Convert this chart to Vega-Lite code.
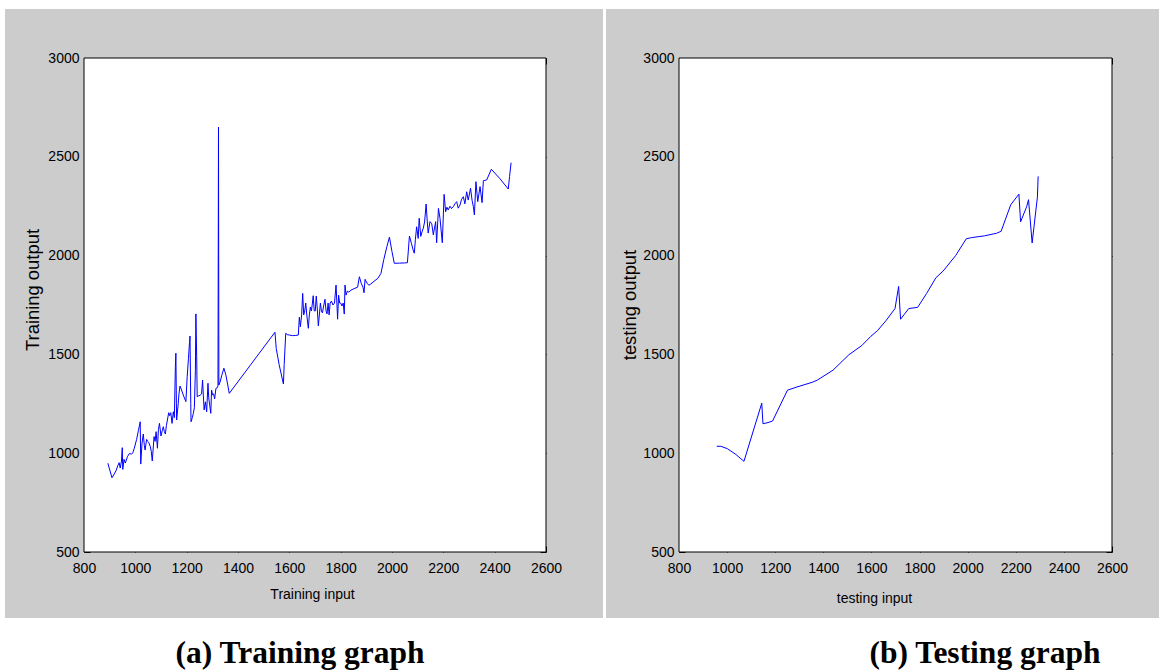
{
  "$schema": "https://vega.github.io/schema/vega-lite/v6.json",
  "background": "white",
  "padding": {"left": 5, "top": 9, "right": 0, "bottom": 0},
  "spacing": 3,
  "config": {
    "view": {"stroke": null},
    "axis": {
      "domain": false,
      "grid": false,
      "format": "d",
      "tickColor": "black",
      "tickWidth": 1,
      "tickSize": -6,
      "labelColor": "black",
      "labelFont": "Liberation Sans, Arial, sans-serif",
      "labelFontSize": 14,
      "labelFlush": false,
      "labelOverlap": false,
      "titleColor": "black",
      "titleFont": "Liberation Sans, Arial, sans-serif",
      "titleFontWeight": "normal",
      "titleFontSize": 14
    },
    "title": {
      "font": "Liberation Serif, Times New Roman, serif",
      "fontSize": 31.5,
      "fontWeight": "bold",
      "color": "black",
      "orient": "bottom",
      "anchor": "middle",
      "frame": "group",
      "baseline": "alphabetic",
      "offset": 20
    }
  },
  "datasets": {
    "training": [
      {"input": 893, "output": 949}, {"input": 909, "output": 876}, {"input": 918, "output": 895},
      {"input": 926, "output": 915}, {"input": 931, "output": 935}, {"input": 937, "output": 952},
      {"input": 941, "output": 925}, {"input": 946, "output": 960}, {"input": 949, "output": 1028},
      {"input": 951, "output": 918}, {"input": 956, "output": 969}, {"input": 961, "output": 950},
      {"input": 969, "output": 982}, {"input": 977, "output": 999}, {"input": 985, "output": 995},
      {"input": 990, "output": 1002}, {"input": 996, "output": 1025}, {"input": 1005, "output": 1070},
      {"input": 1012, "output": 1115}, {"input": 1019, "output": 1159}, {"input": 1021, "output": 945},
      {"input": 1026, "output": 1050}, {"input": 1031, "output": 1097}, {"input": 1035, "output": 1040},
      {"input": 1038, "output": 1016}, {"input": 1044, "output": 1070}, {"input": 1048, "output": 1060},
      {"input": 1052, "output": 1055}, {"input": 1058, "output": 1035}, {"input": 1062, "output": 1010},
      {"input": 1066, "output": 961}, {"input": 1073, "output": 1084}, {"input": 1077, "output": 1060},
      {"input": 1081, "output": 1109}, {"input": 1086, "output": 1025}, {"input": 1090, "output": 1120},
      {"input": 1094, "output": 1151}, {"input": 1100, "output": 1087}, {"input": 1105, "output": 1115},
      {"input": 1109, "output": 1134}, {"input": 1113, "output": 1110}, {"input": 1117, "output": 1097},
      {"input": 1121, "output": 1140}, {"input": 1125, "output": 1168}, {"input": 1130, "output": 1205},
      {"input": 1134, "output": 1190}, {"input": 1138, "output": 1205}, {"input": 1143, "output": 1151},
      {"input": 1148, "output": 1210}, {"input": 1152, "output": 1180}, {"input": 1156, "output": 1438},
      {"input": 1158, "output": 1506}, {"input": 1160, "output": 1250}, {"input": 1161, "output": 1168},
      {"input": 1166, "output": 1235}, {"input": 1170, "output": 1300}, {"input": 1174, "output": 1340},
      {"input": 1180, "output": 1320}, {"input": 1188, "output": 1290}, {"input": 1197, "output": 1261},
      {"input": 1202, "output": 1387}, {"input": 1207, "output": 1480}, {"input": 1211, "output": 1560},
      {"input": 1213, "output": 1593}, {"input": 1216, "output": 1250}, {"input": 1217, "output": 1159},
      {"input": 1222, "output": 1180}, {"input": 1226, "output": 1202}, {"input": 1230, "output": 1230},
      {"input": 1234, "output": 1420}, {"input": 1236, "output": 1705}, {"input": 1239, "output": 1488},
      {"input": 1241, "output": 1286}, {"input": 1246, "output": 1290}, {"input": 1252, "output": 1293},
      {"input": 1258, "output": 1300}, {"input": 1262, "output": 1370}, {"input": 1265, "output": 1290},
      {"input": 1268, "output": 1219}, {"input": 1273, "output": 1260}, {"input": 1278, "output": 1210},
      {"input": 1283, "output": 1354}, {"input": 1286, "output": 1280}, {"input": 1290, "output": 1240},
      {"input": 1294, "output": 1202}, {"input": 1297, "output": 1320}, {"input": 1301, "output": 1295},
      {"input": 1305, "output": 1300}, {"input": 1309, "output": 1275}, {"input": 1314, "output": 1328},
      {"input": 1318, "output": 1330}, {"input": 1322, "output": 1340}, {"input": 1324, "output": 2650},
      {"input": 1325.5, "output": 1345}, {"input": 1330, "output": 1360}, {"input": 1337, "output": 1395},
      {"input": 1345, "output": 1430}, {"input": 1352, "output": 1400}, {"input": 1358, "output": 1360},
      {"input": 1366, "output": 1303}, {"input": 1544, "output": 1612}, {"input": 1549, "output": 1530},
      {"input": 1560, "output": 1450}, {"input": 1577, "output": 1350}, {"input": 1580, "output": 1450},
      {"input": 1586, "output": 1607}, {"input": 1592, "output": 1600}, {"input": 1600, "output": 1598},
      {"input": 1612, "output": 1595}, {"input": 1625, "output": 1596}, {"input": 1635, "output": 1598},
      {"input": 1639, "output": 1688}, {"input": 1643, "output": 1640}, {"input": 1648, "output": 1700},
      {"input": 1652, "output": 1809}, {"input": 1656, "output": 1700}, {"input": 1660, "output": 1720},
      {"input": 1664, "output": 1760}, {"input": 1668, "output": 1700}, {"input": 1674, "output": 1632},
      {"input": 1678, "output": 1700}, {"input": 1682, "output": 1740}, {"input": 1686, "output": 1720},
      {"input": 1690, "output": 1760}, {"input": 1693, "output": 1797}, {"input": 1697, "output": 1720},
      {"input": 1701, "output": 1720}, {"input": 1705, "output": 1795}, {"input": 1709, "output": 1730},
      {"input": 1713, "output": 1644}, {"input": 1717, "output": 1700}, {"input": 1721, "output": 1760},
      {"input": 1725, "output": 1720}, {"input": 1729, "output": 1710}, {"input": 1733, "output": 1740},
      {"input": 1739, "output": 1779}, {"input": 1743, "output": 1720}, {"input": 1747, "output": 1705},
      {"input": 1751, "output": 1760}, {"input": 1755, "output": 1700}, {"input": 1759, "output": 1760},
      {"input": 1764, "output": 1770}, {"input": 1770, "output": 1750}, {"input": 1776, "output": 1760},
      {"input": 1782, "output": 1851}, {"input": 1786, "output": 1740}, {"input": 1788, "output": 1678},
      {"input": 1792, "output": 1800}, {"input": 1796, "output": 1760}, {"input": 1800, "output": 1760},
      {"input": 1805, "output": 1745}, {"input": 1810, "output": 1760}, {"input": 1814, "output": 1704},
      {"input": 1817, "output": 1851}, {"input": 1821, "output": 1800}, {"input": 1826, "output": 1820},
      {"input": 1832, "output": 1815}, {"input": 1840, "output": 1825}, {"input": 1848, "output": 1830},
      {"input": 1856, "output": 1835}, {"input": 1866, "output": 1840}, {"input": 1873, "output": 1893},
      {"input": 1880, "output": 1860}, {"input": 1887, "output": 1840}, {"input": 1891, "output": 1812},
      {"input": 1895, "output": 1880}, {"input": 1903, "output": 1860}, {"input": 1910, "output": 1850},
      {"input": 1917, "output": 1856}, {"input": 1930, "output": 1870}, {"input": 1945, "output": 1885},
      {"input": 1957, "output": 1910}, {"input": 1968, "output": 1980}, {"input": 1980, "output": 2045},
      {"input": 1990, "output": 2093}, {"input": 2000, "output": 2020}, {"input": 2009, "output": 1961},
      {"input": 2030, "output": 1962}, {"input": 2050, "output": 1963}, {"input": 2060, "output": 1964},
      {"input": 2068, "output": 2099}, {"input": 2076, "output": 2060}, {"input": 2082, "output": 2030},
      {"input": 2087, "output": 2012}, {"input": 2091, "output": 2080}, {"input": 2096, "output": 2146},
      {"input": 2102, "output": 2087}, {"input": 2106, "output": 2189}, {"input": 2112, "output": 2097},
      {"input": 2117, "output": 2120}, {"input": 2122, "output": 2139}, {"input": 2127, "output": 2170},
      {"input": 2133, "output": 2261}, {"input": 2137, "output": 2180}, {"input": 2141, "output": 2114},
      {"input": 2148, "output": 2172}, {"input": 2155, "output": 2161}, {"input": 2161, "output": 2105},
      {"input": 2170, "output": 2172}, {"input": 2174, "output": 2065}, {"input": 2181, "output": 2239},
      {"input": 2187, "output": 2189}, {"input": 2196, "output": 2065}, {"input": 2203, "output": 2310},
      {"input": 2209, "output": 2222}, {"input": 2214, "output": 2245}, {"input": 2219, "output": 2231},
      {"input": 2226, "output": 2250}, {"input": 2232, "output": 2238}, {"input": 2239, "output": 2248},
      {"input": 2245, "output": 2262}, {"input": 2252, "output": 2273}, {"input": 2258, "output": 2240},
      {"input": 2265, "output": 2256}, {"input": 2271, "output": 2285}, {"input": 2278, "output": 2298},
      {"input": 2284, "output": 2262}, {"input": 2291, "output": 2323}, {"input": 2297, "output": 2281},
      {"input": 2306, "output": 2341}, {"input": 2312, "output": 2280}, {"input": 2317, "output": 2248},
      {"input": 2321, "output": 2206}, {"input": 2327, "output": 2374}, {"input": 2334, "output": 2273},
      {"input": 2343, "output": 2349}, {"input": 2351, "output": 2268}, {"input": 2356, "output": 2379},
      {"input": 2369, "output": 2383}, {"input": 2387, "output": 2437}, {"input": 2420, "output": 2390},
      {"input": 2453, "output": 2337}, {"input": 2458, "output": 2400}, {"input": 2464, "output": 2470}
    ],
    "testing": [
      {"input": 957, "output": 1035}, {"input": 974, "output": 1035}, {"input": 1001, "output": 1023},
      {"input": 1035, "output": 995}, {"input": 1070, "output": 959}, {"input": 1144, "output": 1253},
      {"input": 1149, "output": 1149}, {"input": 1170, "output": 1155}, {"input": 1189, "output": 1163},
      {"input": 1251, "output": 1319}, {"input": 1290, "output": 1335}, {"input": 1354, "output": 1359},
      {"input": 1375, "output": 1370}, {"input": 1440, "output": 1420}, {"input": 1506, "output": 1498},
      {"input": 1560, "output": 1545}, {"input": 1598, "output": 1592}, {"input": 1625, "output": 1620},
      {"input": 1660, "output": 1670}, {"input": 1698, "output": 1732}, {"input": 1713, "output": 1844},
      {"input": 1721, "output": 1678}, {"input": 1755, "output": 1732}, {"input": 1792, "output": 1738},
      {"input": 1829, "output": 1808}, {"input": 1868, "output": 1888}, {"input": 1898, "output": 1922},
      {"input": 1950, "output": 2000}, {"input": 1994, "output": 2085}, {"input": 2016, "output": 2091},
      {"input": 2070, "output": 2100}, {"input": 2120, "output": 2113}, {"input": 2139, "output": 2123},
      {"input": 2179, "output": 2257}, {"input": 2194, "output": 2281}, {"input": 2213, "output": 2311},
      {"input": 2220, "output": 2171}, {"input": 2245, "output": 2247}, {"input": 2253, "output": 2283},
      {"input": 2268, "output": 2064}, {"input": 2290, "output": 2297}, {"input": 2293, "output": 2401}
    ]
  },
  "hconcat": [
    {
      "width": 598,
      "height": 609,
      "view": {"fill": "#cccccc", "stroke": null},
      "title": {"text": "(a) Training graph", "dx": -4},
      "layer": [
        {
          "data": {"values": [{}]},
          "mark": {"type": "rect", "fill": "white", "stroke": "black", "strokeWidth": 1},
          "encoding": {
            "x": {"datum": 800, "type": "quantitative",
                  "scale": {"domain": [492.2, 2822.1], "nice": false, "zero": false},
                  "axis": {"orient": "top", "offset": -49, "values": [800, 1000, 1200, 1400, 1600, 1800, 2000, 2200, 2400, 2600], "labels": false, "title": null}},
            "x2": {"datum": 2600},
            "y": {"datum": 500, "type": "quantitative",
                  "scale": {"domain": [166.0, 3248.0], "nice": false, "zero": false},
                  "axis": {"orient": "right", "offset": -57, "values": [500, 1000, 1500, 2000, 2500, 3000], "labels": false, "title": null}},
            "y2": {"datum": 3000}
          }
        },
        {
          "data": {"name": "training"},
          "mark": {"type": "line", "color": "#0000ff", "strokeWidth": 1},
          "encoding": {
            "x": {"field": "input", "type": "quantitative",
                  "scale": {"domain": [492.2, 2822.1], "nice": false, "zero": false},
                  "axis": {"orient": "bottom", "offset": -66, "values": [800, 1000, 1200, 1400, 1600, 1800, 2000, 2200, 2400, 2600],
                           "labelPadding": 15, "title": "Training input", "titleX": 307, "titleY": 35, "titleAlign": "center", "titleBaseline": "top"}},
            "y": {"field": "output", "type": "quantitative",
                  "scale": {"domain": [166.0, 3248.0], "nice": false, "zero": false},
                  "axis": {"orient": "left", "offset": -79, "values": [500, 1000, 1500, 2000, 2500, 3000],
                           "labelPadding": 11, "title": "Training output", "titleFontSize": 18.4,
                           "titleX": -52, "titleY": 280.5, "titleAngle": 270, "titleAlign": "center", "titleBaseline": "middle"}}
          }
        }
      ]
    },
    {
      "width": 553,
      "height": 609,
      "view": {"fill": "#cccccc", "stroke": null},
      "title": {"text": "(b) Testing graph", "dx": 102.5},
      "layer": [
        {
          "data": {"values": [{}]},
          "mark": {"type": "rect", "fill": "white", "stroke": "black", "strokeWidth": 1},
          "encoding": {
            "x": {"datum": 800, "type": "quantitative",
                  "scale": {"domain": [496.5, 2795.4], "nice": false, "zero": false},
                  "axis": {"orient": "top", "offset": -49, "values": [800, 1000, 1200, 1400, 1600, 1800, 2000, 2200, 2400, 2600], "labels": false, "title": null}},
            "x2": {"datum": 2600},
            "y": {"datum": 500, "type": "quantitative",
                  "scale": {"domain": [166.0, 3248.0], "nice": false, "zero": false},
                  "axis": {"orient": "right", "offset": -47, "values": [500, 1000, 1500, 2000, 2500, 3000], "labels": false, "title": null}},
            "y2": {"datum": 3000}
          }
        },
        {
          "data": {"name": "testing"},
          "mark": {"type": "line", "color": "#0000ff", "strokeWidth": 1},
          "encoding": {
            "x": {"field": "input", "type": "quantitative",
                  "scale": {"domain": [496.5, 2795.4], "nice": false, "zero": false},
                  "axis": {"orient": "bottom", "offset": -66, "values": [800, 1000, 1200, 1400, 1600, 1800, 2000, 2200, 2400, 2600],
                           "labelPadding": 15, "title": "testing input", "titleX": 268, "titleY": 39, "titleAlign": "center", "titleBaseline": "top"}},
            "y": {"field": "output", "type": "quantitative",
                  "scale": {"domain": [166.0, 3248.0], "nice": false, "zero": false},
                  "axis": {"orient": "left", "offset": -73, "values": [500, 1000, 1500, 2000, 2500, 3000],
                           "labelPadding": 11, "title": "testing output", "titleFontSize": 18.4,
                           "titleX": -49.5, "titleY": 295.5, "titleAngle": 270, "titleAlign": "center", "titleBaseline": "middle"}}
          }
        }
      ]
    }
  ]
}
